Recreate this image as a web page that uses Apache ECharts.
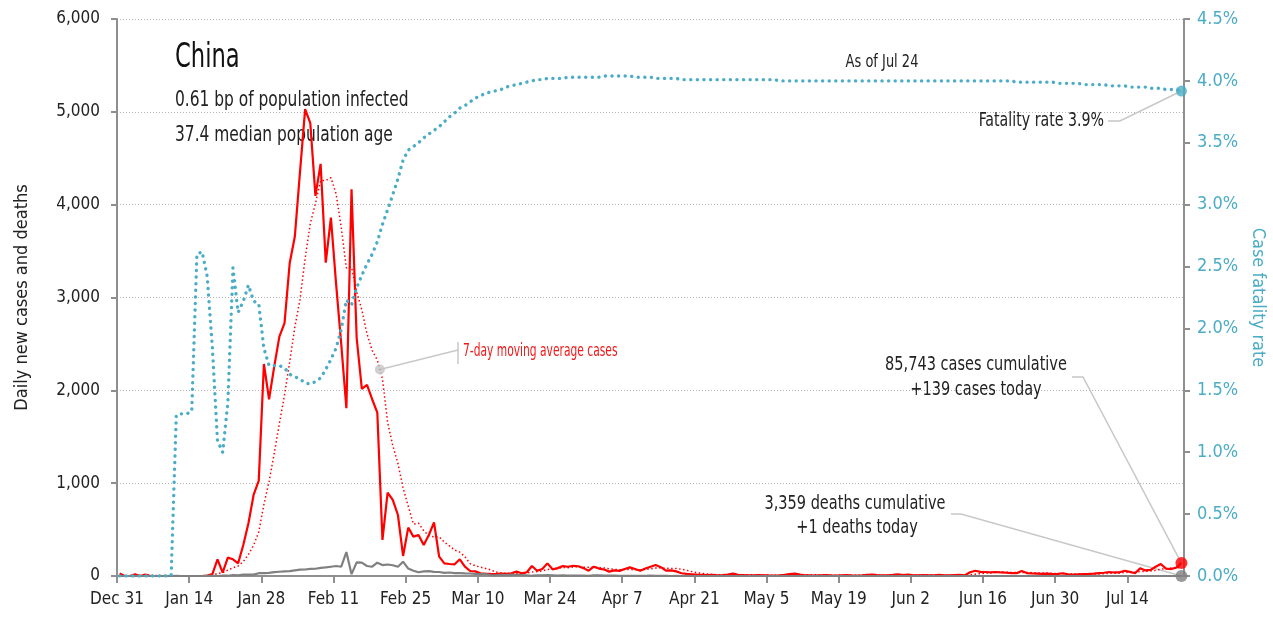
<!DOCTYPE html>
<html>
<head>
<meta charset="utf-8">
<script src="https://cdn.jsdelivr.net/npm/echarts@6/dist/echarts.min.js"></script>
<style>
html,body{margin:0;padding:0;background:#ffffff;}
#c{width:1273px;height:618px;}
</style>
</head>
<body>
<div id="c"></div>
<script>
// ---------- DATA (day 0 = Dec 31, last day = Jul 24) ----------
const tickLabels = ['Dec 31','Jan 14','Jan 28','Feb 11','Feb 25','Mar 10','Mar 24','Apr 7','Apr 21','May 5','May 19','Jun 2','Jun 16','Jun 30','Jul 14'];
const tickDays = [0,14,28,42,56,70,84,98,112,126,140,154,168,182,196];

const cases = [
  27,0,0,17,0,15,0,0,0,0,
  0,0,0,0,0,0,0,4,20,180,
  36,198,180,137,334,568,873,1027,2284,1904,
  2256,2579,2723,3369,3657,4350,5029,4878,4095,4440,
  3376,3861,3150,2500,1807,4167,2561,2015,2058,1904,
  1760,388,898,819,657,216,521,424,442,334,
  442,578,208,136,129,126,180,100,54,50,
  29,25,22,20,25,22,30,47,30,40,
  108,57,75,136,72,85,108,100,110,105,
  85,57,100,80,70,47,60,55,75,93,
  75,57,80,100,118,95,57,60,50,30,
  22,18,14,12,10,12,8,10,15,25,
  12,10,8,6,10,8,6,5,8,12,
  20,25,15,8,6,5,8,10,6,5,
  8,10,6,5,8,12,15,10,6,8,
  12,18,10,15,8,6,10,8,6,12,
  8,6,10,12,8,40,57,45,43,40,
  43,38,35,32,30,54,32,28,25,22,
  25,20,22,30,18,15,18,20,22,25,
  30,35,43,38,40,57,45,30,83,60,
  65,100,129,80,75,90,139
];

const cases7dAvg = [
  4,4,4,6,6,8,8,5,5,5,
  2,2,0,0,0,0,0,1,3,29,
  34,63,88,108,155,233,332,474,772,1018,
  1321,1642,1949,2306,2682,2977,3423,3798,4014,4260,
  4261,4290,4118,3757,3318,3329,3060,2866,2608,2430,
  2325,2122,1655,1406,1212,949,751,560,568,488,
  434,422,421,366,324,279,257,208,133,111,
  95,81,66,43,32,28,25,27,28,31,
  43,48,55,70,74,82,92,90,98,102,
  95,93,95,91,87,78,71,67,70,69,
  68,66,71,76,85,88,83,81,80,73,
  62,47,36,29,22,17,14,12,12,13,
  13,13,13,12,12,11,9,8,7,8,
  10,12,13,13,13,13,12,11,8,7,
  7,7,8,7,7,8,9,9,9,9,
  10,12,11,11,11,11,11,11,9,9,
  8,8,9,9,9,14,20,25,31,35,
  39,44,43,39,37,39,38,36,34,32,
  31,29,25,25,23,22,21,20,21,21,
  21,24,28,30,33,38,41,41,48,50,
  54,63,73,78,85,86,97
];

const deaths = [
  0,0,0,0,0,0,0,0,0,0,
  0,1,0,0,0,0,0,1,1,0,
  3,3,11,8,16,15,15,30,32,34,
  42,46,50,52,60,68,70,76,78,88,
  92,100,108,100,258,20,147,144,108,100,
  144,118,124,116,100,154,80,57,40,50,
  52,45,43,33,38,31,30,28,27,22,
  17,22,11,7,13,10,14,13,11,8,
  3,7,6,9,7,4,6,5,3,5,
  4,1,7,6,4,3,3,2,1,2,
  1,2,1,3,1,1,2,0,1,0,
  1,0,0,0,0,0,0,0,0,0,
  0,0,0,0,0,0,0,0,0,0,
  0,0,0,0,0,0,0,0,0,0,
  0,0,0,0,0,0,0,0,0,0,
  0,0,0,0,0,0,0,0,0,0,
  0,0,0,0,0,0,0,0,0,0,
  0,0,0,0,0,0,0,0,0,0,
  0,0,0,0,0,0,0,0,0,0,
  0,0,0,0,0,0,0,0,0,0,
  0,0,0,0,0,0,1
];

const fatalityRate = [
  0,0,0,0,0,0,0,0,0,0,
  0,1.30,1.31,1.31,1.33,2.60,2.62,2.42,1.85,1.09,
  1.00,1.40,2.49,2.13,2.22,2.35,2.22,2.20,1.84,1.70,
  1.70,1.70,1.68,1.63,1.61,1.59,1.56,1.55,1.57,1.60,
  1.67,1.75,1.84,1.99,2.23,2.19,2.33,2.43,2.52,2.60,
  2.70,2.84,2.96,3.08,3.21,3.36,3.44,3.47,3.50,3.54,
  3.57,3.60,3.63,3.67,3.71,3.74,3.78,3.80,3.83,3.86,
  3.88,3.90,3.91,3.92,3.93,3.95,3.96,3.97,3.98,3.99,
  4.00,4.01,4.01,4.02,4.02,4.02,4.02,4.03,4.03,4.03,
  4.03,4.03,4.03,4.03,4.04,4.04,4.04,4.04,4.04,4.04,
  4.03,4.03,4.03,4.03,4.02,4.02,4.02,4.02,4.02,4.01,
  4.01,4.01,4.01,4.01,4.01,4.01,4.01,4.01,4.01,4.01,
  4.01,4.01,4.01,4.01,4.01,4.01,4.01,4.01,4.00,4.00,
  4.00,4.00,4.00,4.00,4.00,4.00,4.00,4.00,4.00,4.00,
  4.00,4.00,4.00,4.00,4.00,4.00,4.00,4.00,4.00,4.00,
  4.00,4.00,4.00,4.00,4.00,4.00,4.00,4.00,4.00,4.00,
  4.00,4.00,4.00,4.00,4.00,4.00,4.00,4.00,4.00,4.00,
  4.00,4.00,4.00,4.00,3.99,3.99,3.99,3.99,3.99,3.99,
  3.99,3.99,3.98,3.98,3.98,3.98,3.98,3.97,3.97,3.97,
  3.97,3.97,3.96,3.96,3.96,3.96,3.95,3.95,3.95,3.95,
  3.94,3.94,3.94,3.93,3.93,3.93,3.918
];

const titleText = 'China';
const subLines = ['0.61 bp of population infected', '37.4 median population age'];
const asOfText = 'As of Jul 24';

// ---------- CHART ----------
const FONT = "'DejaVu Sans Condensed','Liberation Sans Narrow','DejaVu Sans',sans-serif";
const RED = '#ff0000', GRAY = '#808080', BLUE = '#4bacc6', AXIS = '#8f8f8f', LEAD = '#c8c8c8';
const toXY = arr => arr.map((v, i) => [i + 0.5, v]);
const last = cases.length - 1;

const chart = echarts.init(document.getElementById('c'), null, {renderer: 'canvas'});

const option = {
  animation: false,
  backgroundColor: '#ffffff',
  textStyle: {fontFamily: FONT},
  grid: {left: 117, right: 89, top: 19, bottom: 42, containLabel: false, outerBoundsMode: 'none'},
  xAxis: {
    type: 'value', min: 0, max: cases.length,
    axisLine: {show: true, onZero: false, lineStyle: {color: AXIS, width: 2}},
    axisTick: {show: true, customValues: tickDays, length: 7, lineStyle: {color: AXIS, width: 2}},
    axisLabel: {customValues: tickDays, formatter: v => tickLabels[tickDays.indexOf(Math.round(v))] || '',
      fontSize: 17, color: '#222', margin: 15, fontFamily: FONT},
    splitLine: {show: false}
  },
  yAxis: [
    {
      type: 'value', min: 0, max: 6000, interval: 1000, position: 'left',
      name: 'Daily new cases and deaths', nameLocation: 'middle', nameRotate: 90, nameGap: 86,
      nameTextStyle: {fontSize: 18, color: '#222', fontFamily: FONT},
      axisLine: {show: true, lineStyle: {color: AXIS, width: 2}},
      axisTick: {show: true, length: 6, lineStyle: {color: AXIS, width: 2}},
      axisLabel: {formatter: v => v.toLocaleString('en-US'), fontSize: 17, color: '#222', margin: 17, fontFamily: FONT},
      splitLine: {show: true, lineStyle: {color: '#b5b5b5', width: 1, type: [1, 2]}}
    },
    {
      type: 'value', min: 0, max: 4.5, interval: 0.5, position: 'right',
      name: 'Case fatality rate', nameLocation: 'middle', nameRotate: -90, nameGap: 62,
      nameTextStyle: {fontSize: 18, color: BLUE, fontFamily: FONT},
      axisLine: {show: true, lineStyle: {color: AXIS, width: 2}},
      axisTick: {show: true, length: 6, lineStyle: {color: AXIS, width: 2}},
      axisLabel: {formatter: v => v.toFixed(1) + '%', fontSize: 18, color: BLUE, margin: 13, fontFamily: FONT},
      splitLine: {show: false}
    }
  ],
  series: [
    {name: '7-day moving average cases', type: 'line', data: toXY(cases7dAvg), showSymbol: false, z: 3,
      lineStyle: {color: RED, width: 1.5, type: [1.5, 2.5]}},
    {name: 'Daily new cases', type: 'line', data: toXY(cases), showSymbol: false, z: 3,
      lineStyle: {color: RED, width: 2.2}},
    {name: 'Daily new deaths', type: 'line', data: toXY(deaths), showSymbol: false, z: 3,
      lineStyle: {color: GRAY, width: 2.2}},
    {name: 'Case fatality rate', type: 'line', yAxisIndex: 1, data: toXY(fatalityRate), showSymbol: false, z: 4,
      lineStyle: {color: BLUE, width: 3.4, type: [0.1, 6.5], cap: 'round'}},
    {name: 'end cases', type: 'scatter', data: [[last + 0.5, cases[last]]], symbolSize: 12, z: 6,
      itemStyle: {color: RED}},
    {name: 'end deaths', type: 'scatter', data: [[last + 0.5, deaths[last]]], symbolSize: 12, z: 6,
      itemStyle: {color: GRAY}},
    {name: 'end cfr', type: 'scatter', yAxisIndex: 1, data: [[last + 0.5, fatalityRate[last]]], symbolSize: 11, z: 6,
      itemStyle: {color: BLUE}},
    {name: 'ma marker', type: 'scatter', data: [[51, (cases7dAvg[50] + cases7dAvg[51]) / 2]], symbolSize: 10, z: 6,
      itemStyle: {color: '#c4c4c4'}}
  ]
};
chart.setOption(option);

const px = (x, v, yi) => chart.convertToPixel({xAxisIndex: 0, yAxisIndex: yi || 0}, [x, v]);
const pCases = px(last + 0.5, cases[last], 0);
const pDeaths = px(last + 0.5, deaths[last], 0);
const pCfr = px(last + 0.5, fatalityRate[last], 1);
const pMa = px(51, (cases7dAvg[50] + cases7dAvg[51]) / 2, 0);

const totalCases = '85,743', totalDeaths = '3,359';
const txt = (text, x, y, size, color, align, sx) => ({
  type: 'text', z: 1, x, y, scaleX: sx || 1, scaleY: 1,
  style: {text, x: 0, y: 0, fill: color || '#222', font: size + 'px ' + FONT, align: align || 'left', verticalAlign: 'middle'}
});
const line = (points) => ({type: 'polyline', z: 1, shape: {points}, style: {stroke: LEAD, lineWidth: 1.5, fill: null}});

chart.setOption({
  graphic: [
    txt(titleText, 175, 58, 34, '#111', 'left', 0.74),
    txt(subLines[0], 175, 100, 22, '#222', 'left', 0.78),
    txt(subLines[1], 175, 135, 22, '#222', 'left', 0.78),
    txt(asOfText, 882, 63, 17, '#222', 'center', 0.85),
    txt('Fatality rate ' + fatalityRate[last].toFixed(1) + '%', 1104, 121, 19, '#222', 'right', 0.83),
    line([[1108, 121], [1120, 121], pCfr]),
    txt(totalCases + ' cases cumulative', 976, 365, 19, '#222', 'center', 0.85),
    txt('+' + cases[last] + ' cases today', 976, 390, 19, '#222', 'center', 0.85),
    line([[1072, 377], [1083, 377], pCases]),
    txt(totalDeaths + ' deaths cumulative', 855, 504, 19, '#222', 'center', 0.85),
    txt('+' + deaths[last] + ' deaths today', 857, 528, 19, '#222', 'center', 0.85),
    line([[951, 514], [961, 514], pDeaths]),
    txt('7-day moving average cases', 463, 352, 17, '#f01818', 'left', 0.7),
    line([pMa, [458, 350]]),
    line([[458, 342], [458, 364]])
  ]
});
</script>
</body>
</html>
